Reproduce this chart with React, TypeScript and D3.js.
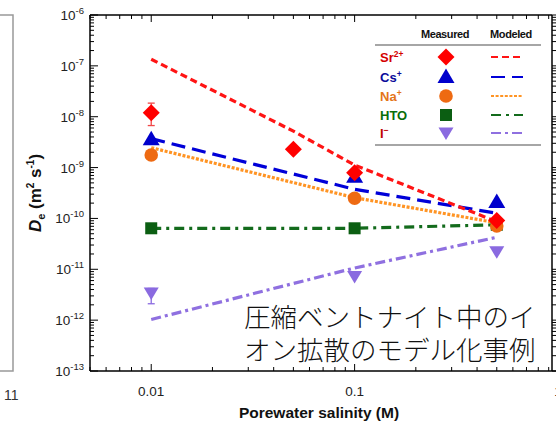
import React from 'react';
import * as d3 from 'd3';

// ---- data ----
const xTickValues = [0.01, 0.1, 1];
const xTickLabels = ['0.01', '0.1', '1'];
const yDecades = [-13, -12, -11, -10, -9, -8, -7, -6];

const srX = [0.01, 0.05, 0.1, 0.5];
const srMeasured = [1.2e-8, 2.3e-9, 7.9e-10, 9.1e-11];
const srModeled = [1.35e-7, 5.2e-9, 1.12e-9, 8.6e-11];
const srErrLow = [6.7e-9];
const srErrHigh = [1.85e-8];

const baseX = [0.01, 0.1, 0.5];
const csMeasured = [3.6e-9, 6.6e-10, 2.1e-10];
const csModeled = [3.7e-9, 3.74e-10, 1.26e-10];
const naMeasured = [1.77e-9, 2.5e-10, 7.1e-11];
const naModeled = [2.46e-9, 2.56e-10, 8.2e-11];
const htoMeasured = [6.4e-11, 6.4e-11, 7.5e-11];
const htoModeled = [6.4e-11, 6.4e-11, 7.5e-11];
const iMeasured = [3.4e-12, 7.2e-12, 2.2e-11];
const iModeled = [1.03e-12, 1.06e-11, 4.26e-11];
const iErrLow = [2.1e-12];
const iErrHigh = [4.2e-12];

const legendLabels = [
  { base: 'Sr', sup: '2+' },
  { base: 'Cs', sup: '+' },
  { base: 'Na', sup: '+' },
  { base: 'HTO', sup: '' },
  { base: 'I', sup: '\u2212' },
];

const overlayLines = ['圧縮ベントナイト中のイ', 'オン拡散のモデル化事例'];

// ---- styles ----
const W = 556, H = 427;
const L = 90, R = 552, T = 15, B = 371;

const series = [
  { key: 'I', x: baseX, m: iMeasured, mod: iModeled, color: '#8a6ae0', lineColor: '#8f70e0', labelColor: '#c00000', marker: 'tridown', dash: '10 4 3 4' },
  { key: 'HTO', x: baseX, m: htoMeasured, mod: htoModeled, color: '#0b5e12', lineColor: '#136b1c', labelColor: '#0a6e0a', marker: 'square', dash: '10 5 3 5' },
  { key: 'Na', x: baseX, m: naMeasured, mod: naModeled, color: '#ee6a12', lineColor: '#ff9424', labelColor: '#e47518', marker: 'circle', dash: '3 1.6' },
  { key: 'Cs', x: baseX, m: csMeasured, mod: csModeled, color: '#0000cc', lineColor: '#0000d8', labelColor: '#0a0a9a', marker: 'triup', dash: '14 7' },
  { key: 'Sr', x: srX, m: srMeasured, mod: srModeled, color: '#ff0000', lineColor: '#ff1414', labelColor: '#d40000', marker: 'diamond', dash: '7 4' },
];

function Marker({ type, cx, cy, color }: { type: string; cx: number; cy: number; color: string }) {
  if (type === 'diamond') {
    const r = 8.5;
    return <path d={`M${cx},${cy - r}L${cx + r},${cy}L${cx},${cy + r}L${cx - r},${cy}Z`} fill={color} />;
  }
  if (type === 'triup') {
    return <path d={`M${cx},${cy - 8.5}L${cx + 8.5},${cy + 6}L${cx - 8.5},${cy + 6}Z`} fill={color} />;
  }
  if (type === 'tridown') {
    return <path d={`M${cx - 7.5},${cy - 5.5}L${cx + 7.5},${cy - 5.5}L${cx},${cy + 7}Z`} fill={color} />;
  }
  if (type === 'circle') {
    return <circle cx={cx} cy={cy} r={6.8} fill={color} />;
  }
  return <rect x={cx - 6} y={cy - 6} width={12} height={12} fill={color} />;
}

export default function App() {
  const x = d3.scaleLog().domain([0.005, 1]).range([L, 558]);
  const y = d3.scaleLog().domain([1e-13, 1e-6]).range([B, T]);
  const line = (xs: number[], ys: number[]) =>
    d3.line<number>().x((_, i) => x(xs[i])).y((v) => y(v))(ys) || '';

  const xMinor: number[] = [];
  [0.001, 0.01, 0.1, 1].forEach((d) => {
    for (let k = 1; k <= 9; k++) {
      const v = d * k;
      if (v >= 0.005 && x(v) <= 556) xMinor.push(v);
    }
  });
  const yMinor: number[] = [];
  for (let e = -13; e < -6; e++) {
    for (let k = 2; k <= 9; k++) yMinor.push(k * Math.pow(10, e));
  }
  const isMajorX = (v: number) => xTickValues.some((t) => Math.abs(t - v) < 1e-9);

  const axisFont = "'Liberation Sans', Arial, sans-serif";
  const legX = 380;
  const legRows = [57, 77, 96, 115, 133];
  const legOrder = ['Sr', 'Cs', 'Na', 'HTO', 'I'];

  return (
    <svg width={W} height={H} style={{ position: 'absolute', left: 0, top: 0, background: '#fff' }} fontFamily={axisFont}>
      {/* left neighbouring panel fragment */}
      <path d={`M0,${T}H13V${B}H0`} fill="none" stroke="#999" strokeWidth={1.5} />
      <text x={4} y={400} fontSize={14} fill="#333">11</text>

      {/* modeled lines */}
      {series.map((s) => (
        <path key={'l' + s.key} d={line(s.x, s.mod)} fill="none" stroke={s.lineColor} strokeWidth={3.2} strokeDasharray={s.dash} />
      ))}

      {/* error bars */}
      {[{ v: 0.01, lo: srErrLow[0], hi: srErrHigh[0], c: '#f04848' }, { v: 0.01, lo: iErrLow[0], hi: iErrHigh[0], c: '#8a6ae0' }].map((e, i) => (
        <g key={'e' + i} stroke={e.c} strokeWidth={1.3}>
          <line x1={x(e.v)} x2={x(e.v)} y1={y(e.lo)} y2={y(e.hi)} />
          <line x1={x(e.v) - 3.5} x2={x(e.v) + 3.5} y1={y(e.lo)} y2={y(e.lo)} />
          <line x1={x(e.v) - 3.5} x2={x(e.v) + 3.5} y1={y(e.hi)} y2={y(e.hi)} />
        </g>
      ))}

      {/* measured markers */}
      {series.map((s) => (
        <g key={'m' + s.key}>
          {s.m.map((v, i) => (
            <Marker key={i} type={s.marker} cx={x(s.x[i])} cy={y(v)} color={s.color} />
          ))}
        </g>
      ))}

      {/* frame */}
      <g stroke="#000" strokeWidth={1.5} fill="none">
        <line x1={L} x2={R} y1={T} y2={T} />
        <line x1={L} x2={W} y1={B} y2={B} />
        <line x1={L} x2={L} y1={T} y2={B} />
        <line x1={R} x2={R} y1={T} y2={B} />
      </g>
      {/* x ticks */}
      <g stroke="#000" strokeWidth={1}>
        {xMinor.map((v, i) => {
          const len = isMajorX(v) ? 7 : 4;
          return (
            <g key={i}>
              <line x1={x(v)} x2={x(v)} y1={B} y2={B - len} />
              {x(v) < R - 1 && <line x1={x(v)} x2={x(v)} y1={T} y2={T + len} />}
            </g>
          );
        })}
      </g>
      {/* y ticks */}
      <g stroke="#000" strokeWidth={1}>
        {yDecades.map((e) => (
          <g key={e}>
            <line x1={L} x2={L + 8} y1={y(Math.pow(10, e))} y2={y(Math.pow(10, e))} />
            <line x1={R} x2={R + 8} y1={y(Math.pow(10, e))} y2={y(Math.pow(10, e))} />
          </g>
        ))}
        {yMinor.map((v, i) => (
          <g key={i}>
            <line x1={L} x2={L + 4} y1={y(v)} y2={y(v)} />
            <line x1={R} x2={R + 4} y1={y(v)} y2={y(v)} />
          </g>
        ))}
      </g>
      {/* y tick labels */}
      {yDecades.map((e) => (
        <text key={e} x={84} y={y(Math.pow(10, e)) + 5} textAnchor="end" fontSize={13.5} fill="#222">
          10<tspan fontSize={9.5} dy={-6}>{e}</tspan>
        </text>
      ))}
      {/* x tick labels */}
      {xTickValues.map((v, i) => (
        <text key={v} x={x(v)} y={396} textAnchor="middle" fontSize={13.5} fill="#222">{xTickLabels[i]}</text>
      ))}
      {/* axis titles */}
      <text x={319} y={418} textAnchor="middle" fontSize={15.5} fontWeight="bold" fill="#111">Porewater salinity (M)</text>
      <text transform={`translate(41,${(T + B) / 2}) rotate(-90)`} textAnchor="middle" fontSize={17} fontWeight="bold" fill="#111">
        <tspan fontStyle="italic">D</tspan>
        <tspan fontSize={11} dy={4}>e</tspan>
        <tspan dy={-4}> (m</tspan>
        <tspan fontSize={10} dy={-7}>2</tspan>
        <tspan dy={7}> s</tspan>
        <tspan fontSize={10} dy={-7}>-1</tspan>
        <tspan dy={7}>)</tspan>
      </text>

      {/* legend */}
      <g>
        <text x={445} y={38} textAnchor="middle" fontSize={11} fontWeight="bold" fill="#111" letterSpacing={-0.4}>Measured</text>
        <text x={511} y={38} textAnchor="middle" fontSize={11} fontWeight="bold" fill="#111" letterSpacing={-0.4}>Modeled</text>
        <line x1={375} x2={541} y1={45} y2={45} stroke="#888" strokeWidth={1.5} />
        <line x1={375} x2={541} y1={145} y2={145} stroke="#888" strokeWidth={1.5} />
        {legOrder.map((k, i) => {
          const s = series.find((d) => d.key === k)!;
          const lab = legendLabels[i];
          const cy = legRows[i];
          return (
            <g key={k}>
              <text x={legX} y={cy + 4.5} fontSize={13} fontWeight="bold" fill={s.labelColor}>
                {lab.base}
                {lab.sup && <tspan fontSize={8.5} dy={-5}>{lab.sup}</tspan>}
              </text>
              <Marker type={s.marker} cx={446} cy={cy} color={s.color} />
              <line x1={491} x2={523} y1={cy} y2={cy} stroke={s.lineColor} strokeWidth={2} strokeDasharray={s.dash} />
            </g>
          );
        })}
      </g>

      {/* overlay caption */}
      {overlayLines.map((t, i) => (
        <text key={i} x={244} y={327 + i * 33} fontSize={26.5} fill="#111" fontFamily="'Noto Sans CJK JP', sans-serif" fontWeight={300}>{t}</text>
      ))}
    </svg>
  );
}
